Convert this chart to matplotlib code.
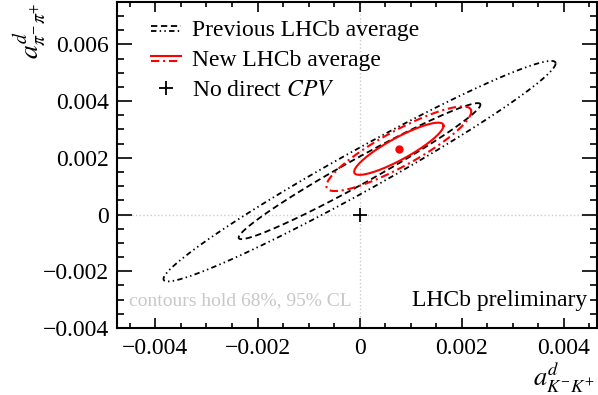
import numpy as np
import matplotlib
matplotlib.use("Agg")
import matplotlib.pyplot as plt
from matplotlib.lines import Line2D
from matplotlib.legend_handler import HandlerBase
from matplotlib.ticker import MultipleLocator

plt.rcParams['font.family'] = ['Liberation Serif', 'DejaVu Serif']
plt.rcParams['mathtext.fontset'] = 'stix'

# Averages: central values, uncertainties and correlation
prev_center = (0.00000, 0.00153)
prev_sigma = (0.00157, 0.00159)
prev_rho = 0.977

new_center = (0.00077, 0.00232)
new_sigma = (0.00058, 0.00061)
new_rho = 0.88

no_cpv = (0.0, 0.0)
cl_levels = [0.68, 0.95]


def contour(center, sigma, rho, cl, n=400):
    # 2D gaussian contour for a given confidence level
    k = np.sqrt(-2 * np.log(1 - cl))
    t = np.linspace(0, 2 * np.pi, n)
    x = center[0] + k * sigma[0] * np.cos(t)
    y = center[1] + k * sigma[1] * (rho * np.cos(t) + np.sqrt(1 - rho**2) * np.sin(t))
    return x, y


class PairHandler(HandlerBase):
    # two line styles stacked in one legend entry
    def create_artists(self, legend, orig_handle, xdescent, ydescent,
                       width, height, fontsize, trans):
        top, bottom = orig_handle
        out = []
        for h, yy in ((top, 0.62 * height), (bottom, 0.28 * height)):
            ln = Line2D([-xdescent, width - xdescent], [yy - ydescent] * 2,
                        color=h.get_color(), linestyle=h.get_linestyle(),
                        linewidth=h.get_linewidth())
            if h._unscaled_dash_pattern[1]:
                ln.set_dashes(h._unscaled_dash_pattern[1])
            ln.set_transform(trans)
            out.append(ln)
        return out


prev_styles = [(0, (3.5, 2.0)), (0, (3.0, 1.8, 0.8, 1.8, 0.8, 1.8))]
new_styles = ['-', (0, (4.0, 1.8, 1.0, 1.8))]

fig = plt.figure(figsize=(5.98, 3.95), dpi=100)
ax = fig.add_axes([0.196, 0.170, 0.802, 0.825])

ax.axhline(0, color='#cccccc', lw=1.0, ls=':', zorder=0)
ax.axvline(0, color='#cccccc', lw=1.0, ls=':', zorder=0)

prev_lines = []
for cl, ls in zip(cl_levels, prev_styles):
    x, y = contour(prev_center, prev_sigma, prev_rho, cl)
    l, = ax.plot(x, y, color='black', lw=1.3, ls=ls)
    prev_lines.append(l)

new_lines = []
for cl, ls in zip(cl_levels, new_styles):
    x, y = contour(new_center, new_sigma, new_rho, cl)
    l, = ax.plot(x, y, color='red', lw=1.5, ls=ls)
    new_lines.append(l)

ax.plot(new_center[0], new_center[1], 'o', color='red', ms=5)
cross, = ax.plot(no_cpv[0], no_cpv[1], '+', color='black', ms=10, mew=1.3)

ax.set_xlim(-0.00475, 0.00465)
ax.set_ylim(-0.004, 0.0075)
ax.xaxis.set_major_locator(MultipleLocator(0.002))
ax.xaxis.set_minor_locator(MultipleLocator(0.0005))
ax.yaxis.set_major_locator(MultipleLocator(0.002))
ax.yaxis.set_minor_locator(MultipleLocator(0.0005))
ax.xaxis.set_major_formatter(lambda v, p: '0' if abs(v) < 1e-12 else f'{v:.3f}'.replace('-', '\u2212'))
ax.yaxis.set_major_formatter(lambda v, p: '0' if abs(v) < 1e-12 else f'{v:.3f}'.replace('-', '\u2212'))

ax.tick_params(which='both', direction='in', top=True, right=True, labelsize=17, width=1.2)
ax.tick_params(axis='x', which='major', length=7.2, pad=7)
ax.tick_params(axis='x', which='minor', length=3.6)
ax.tick_params(axis='y', which='major', length=10.8, pad=6)
ax.tick_params(axis='y', which='minor', length=5.0)
for s in ax.spines.values():
    s.set_linewidth(1.5)

ax.set_xlabel(r'$a^{d}_{K^{-}K^{+}}$', fontsize=19, loc='right', labelpad=0)
ax.set_ylabel(r'$a^{d}_{\pi^{-}\pi^{+}}$', fontsize=20, loc='top', labelpad=0)
ax.xaxis.set_label_coords(0.996, -0.097)
ax.yaxis.set_label_coords(-0.145, 1.0)

ax.legend([tuple(prev_lines), tuple(new_lines), cross],
          ['Previous LHCb average', 'New LHCb average', 'No direct $\\mathit{CPV}$'],
          handler_map={tuple: PairHandler()},
          loc='upper left', bbox_to_anchor=(0.035, 0.997), frameon=False,
          fontsize=17, handlelength=1.3, handletextpad=0.45, labelspacing=0.36,
          borderpad=0.2)

ax.text(0.025, 0.085, 'contours hold 68%, 95% CL', transform=ax.transAxes,
        fontsize=14, color='#c8c8c8', va='center', ha='left')
ax.text(0.98, 0.085, 'LHCb preliminary', transform=ax.transAxes,
        fontsize=17, color='black', va='center', ha='right')

fig.savefig('out.png', dpi=100)
